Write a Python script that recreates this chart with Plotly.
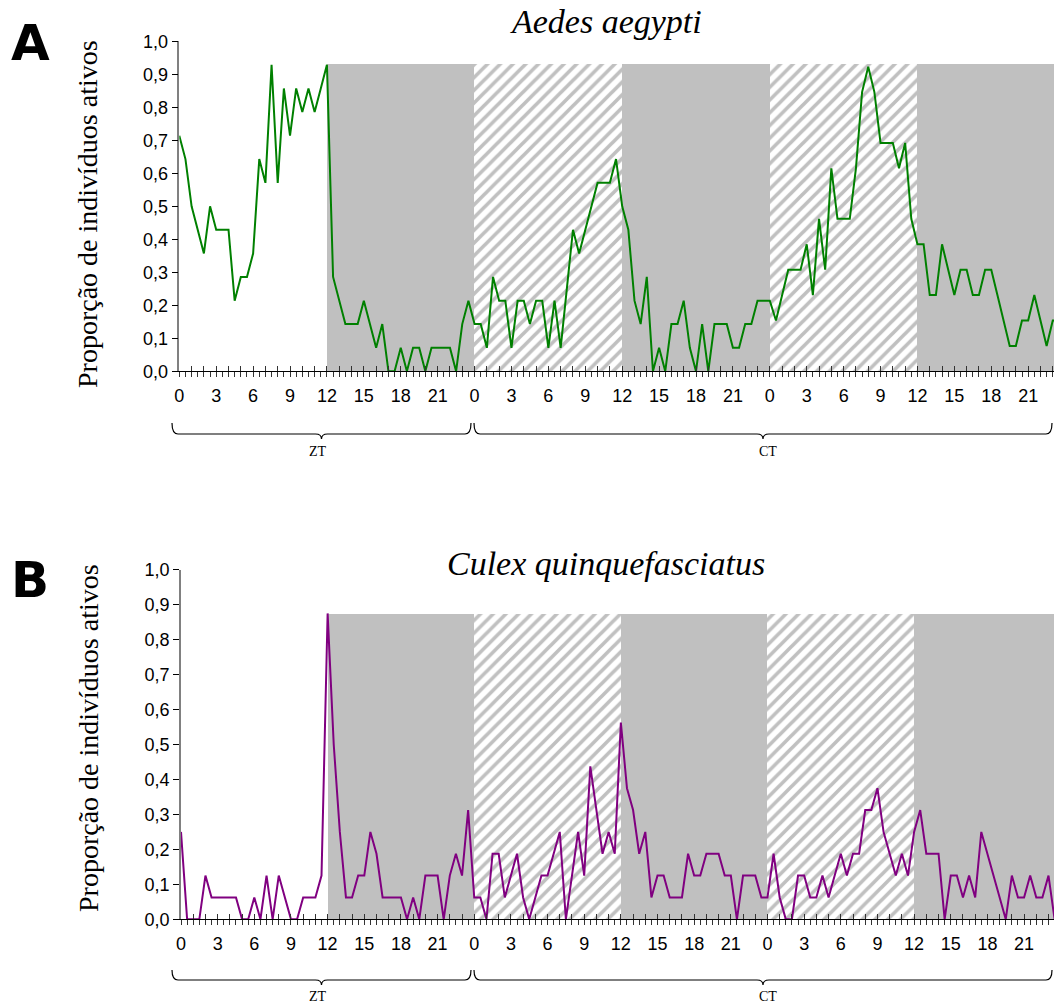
import plotly.graph_objects as go

W, H = 1054, 1006

# ---------------- data ----------------
hours = [i * 0.5 for i in range(144)]

aedes = [0.714, 0.643, 0.5, 0.429, 0.357, 0.5, 0.429, 0.429, 0.429, 0.214, 0.286, 0.286,
         0.357, 0.643, 0.571, 0.929, 0.571, 0.857, 0.714, 0.857, 0.786, 0.857, 0.786, 0.857,
         0.929, 0.286, 0.214, 0.143, 0.143, 0.143, 0.214, 0.143, 0.071, 0.143, 0.0, 0.0,
         0.071, 0.0, 0.071, 0.071, 0.0, 0.071, 0.071, 0.071, 0.071, 0.0, 0.143, 0.214,
         0.143, 0.143, 0.071, 0.286, 0.214, 0.214, 0.071, 0.214, 0.214, 0.143, 0.214, 0.214,
         0.071, 0.214, 0.071, 0.25, 0.429, 0.357, 0.429, 0.5, 0.571, 0.571, 0.571, 0.643,
         0.5, 0.429, 0.214, 0.143, 0.286, 0.0, 0.071, 0.0, 0.143, 0.143, 0.214, 0.071,
         0.0, 0.143, 0.0, 0.143, 0.143, 0.143, 0.071, 0.071, 0.143, 0.143, 0.214, 0.214,
         0.214, 0.154, 0.231, 0.308, 0.308, 0.308, 0.385, 0.231, 0.462, 0.308, 0.615, 0.462,
         0.462, 0.462, 0.615, 0.846, 0.923, 0.846, 0.692, 0.692, 0.692, 0.615, 0.692, 0.462,
         0.385, 0.385, 0.231, 0.231, 0.385, 0.308, 0.231, 0.308, 0.308, 0.231, 0.231, 0.308,
         0.308, 0.231, 0.154, 0.077, 0.077, 0.154, 0.154, 0.231, 0.154, 0.077, 0.154, 0.154]

culex = [0.25, 0, 0, 0, 0.125, 0.0625, 0.0625, 0.0625, 0.0625, 0.0625, 0, 0,
         0.0625, 0, 0.125, 0, 0.125, 0.0625, 0, 0, 0.0625, 0.0625, 0.0625, 0.125,
         0.875, 0.5, 0.25, 0.0625, 0.0625, 0.125, 0.125, 0.25, 0.1875, 0.0625, 0.0625, 0.0625,
         0.0625, 0, 0.0625, 0, 0.125, 0.125, 0.125, 0, 0.125, 0.1875, 0.125, 0.3125,
         0.0625, 0.0625, 0, 0.1875, 0.1875, 0.0625, 0.125, 0.1875, 0.0625, 0, 0.0625, 0.125,
         0.125, 0.1875, 0.25, 0, 0.125, 0.25, 0.125, 0.4375, 0.3125, 0.1875, 0.25, 0.1875,
         0.5625, 0.375, 0.3125, 0.1875, 0.25, 0.0625, 0.125, 0.125, 0.0625, 0.0625, 0.0625, 0.1875,
         0.125, 0.125, 0.1875, 0.1875, 0.1875, 0.125, 0.125, 0, 0.125, 0.125, 0.125, 0.0625,
         0.0625, 0.1875, 0.0625, 0, 0, 0.125, 0.125, 0.0625, 0.0625, 0.125, 0.0625, 0.125,
         0.1875, 0.125, 0.1875, 0.1875, 0.3125, 0.3125, 0.375, 0.25, 0.1875, 0.125, 0.1875, 0.125,
         0.25, 0.3125, 0.1875, 0.1875, 0.1875, 0, 0.125, 0.125, 0.0625, 0.125, 0.0625, 0.25,
         0.1875, 0.125, 0.0625, 0, 0.125, 0.0625, 0.0625, 0.125, 0.0625, 0.0625, 0.125, 0]

night_centers = [18, 42, 66]          # dark phases (ZT12-24, CT12-24)
subj_day_centers = [30, 54]           # subjective day under constant darkness
phase_width = 12

x_tick_vals = list(range(0, 72, 3))
x_tick_labels = [str(h % 24) for h in x_tick_vals]
y_tick_vals = [round(0.1 * k, 1) for k in range(11)]
y_tick_labels = [f"{v:.1f}".replace(".", ",") for v in y_tick_vals]

species = ["Aedes aegypti", "Culex quinquefasciatus"]
y_title = "Proporção de indivíduos ativos"

# ---------------- helpers ----------------
def px(x):
    return x / W

def py(y):
    return 1 - y / H

GREY = "#c0c0c0"
SANS = "Liberation Sans, Arial, sans-serif"
SERIF = "Liberation Serif, Times New Roman, serif"

fig = go.Figure()

panels = [
    dict(vals=aedes, color="#008000", xa="x", ya="y", xo="x3", x0px=179.3, xend=71.1,
         y0px=371.3, y1px=41.3),
    dict(vals=culex, color="#800080", xa="x2", ya="y2", xo="x4", x0px=181.0, xend=71.45,
         y0px=919.3, y1px=569.7),
]

for p in panels:
    top = max(p["vals"])
    fig.add_trace(go.Bar(x=night_centers, y=[top] * len(night_centers), width=phase_width,
                         marker=dict(color=GREY, line=dict(width=0)),
                         xaxis=p["xa"], yaxis=p["ya"], showlegend=False, hoverinfo="skip"))
    fig.add_trace(go.Bar(x=subj_day_centers, y=[top] * len(subj_day_centers), width=phase_width,
                         marker=dict(color="white", line=dict(width=0),
                                     pattern=dict(shape="/", fgcolor=GREY, bgcolor="white",
                                                  size=9, solidity=0.4)),
                         xaxis=p["xa"], yaxis=p["ya"], showlegend=False, hoverinfo="skip"))
    fig.add_trace(go.Scatter(x=hours, y=p["vals"], mode="lines",
                             line=dict(color=p["color"], width=2),
                             xaxis=p["xa"], yaxis=p["ya"], showlegend=False, cliponaxis=False))
    # dummy trace for the overlay axis (upper half of cross ticks)
    fig.add_trace(go.Scatter(x=[None], y=[None], xaxis=p["xo"], yaxis=p["ya"],
                             showlegend=False, hoverinfo="skip"))

all_tick_text = [str(int(h) % 24) if (h in x_tick_vals) else "" for h in hours]

layout = dict(
    template="none",
    width=W, height=H, autosize=False,
    margin=dict(l=0, r=0, t=0, b=0, pad=0, autoexpand=False),
    paper_bgcolor="white", plot_bgcolor="white",
    barmode="overlay", bargap=0,
    showlegend=False,
    font=dict(family=SANS, size=18, color="black"),
)

for k, p in enumerate(panels):
    n = "" if k == 0 else "2"
    on = "3" if k == 0 else "4"
    xdom = [px(p["x0px"]), 1.0]
    ydom = [py(p["y0px"]), py(p["y1px"])]
    layout["xaxis" + n] = dict(
        domain=xdom, range=[0, p["xend"]], anchor="y" + n, automargin=False,
        tickmode="array", tickvals=hours, ticktext=all_tick_text,
        ticks="outside", ticklen=5, tickwidth=1, tickcolor="#333333",
        showline=True, linecolor="black", linewidth=1,
        showgrid=False, zeroline=False,
        tickfont=dict(family=SANS, size=18, color="black"),
        ticklabelstandoff=3,
    )
    layout["xaxis" + on] = dict(
        domain=xdom, range=[0, p["xend"]], anchor="y" + n, overlaying="x" + n,
        automargin=False,
        tickmode="array", tickvals=list(range(0, 72)),
        ticks="inside", ticklen=5, tickwidth=1, tickcolor="#333333",
        showticklabels=False, showline=False, showgrid=False, zeroline=False,
    )
    layout["yaxis" + n] = dict(
        domain=ydom, range=[0, 1], anchor="x" + n, automargin=False,
        tickmode="array", tickvals=y_tick_vals, ticktext=y_tick_labels,
        ticks="outside", ticklen=6, tickwidth=1, tickcolor="black",
        showline=True, linecolor="#808080", linewidth=1.5,
        showgrid=False, zeroline=False,
        tickfont=dict(family=SANS, size=18, color="black"),
    )

fig.update_layout(**layout)

# ---------------- text ----------------
ann = []
for letter, ypx in (("A", 43), ("B", 580)):
    ann.append(dict(text=f"<b>{letter}</b>", x=px(30), y=py(ypx), xref="paper", yref="paper",
                    showarrow=False, xanchor="center", yanchor="middle",
                    font=dict(family="DejaVu Sans", size=50, color="black")))
for name, ypx in zip(species, (22, 563)):
    ann.append(dict(text=f"<i>{name}</i>", x=px(606), y=py(ypx), xref="paper", yref="paper",
                    showarrow=False, xanchor="center", yanchor="middle",
                    font=dict(family=SERIF, size=34, color="black")))
for ypx in (214, 738):
    ann.append(dict(text=y_title, x=px(88), y=py(ypx), xref="paper", yref="paper",
                    showarrow=False, xanchor="center", yanchor="middle", textangle=-90,
                    font=dict(family=SERIF, size=28, color="black")))

shapes = []

def brace(x0, x1, yt, yl, tip=5, r=6):
    xm = (x0 + x1) / 2
    pts = [
        f"M {px(x0)},{py(yt)}",
        f"Q {px(x0)},{py(yl)} {px(x0 + r)},{py(yl)}",
        f"L {px(xm - r)},{py(yl)}",
        f"Q {px(xm)},{py(yl)} {px(xm)},{py(yl + tip)}",
        f"Q {px(xm)},{py(yl)} {px(xm + r)},{py(yl)}",
        f"L {px(x1 - r)},{py(yl)}",
        f"Q {px(x1)},{py(yl)} {px(x1)},{py(yt)}",
    ]
    return dict(type="path", path=" ".join(pts), xref="paper", yref="paper",
                line=dict(color="black", width=1.2))

for yt, yl, ylab in ((423, 434, 451), (970, 980, 996)):
    shapes.append(brace(172, 471, yt, yl))
    shapes.append(brace(474, 1052, yt, yl))
    ann.append(dict(text="ZT", x=px(318), y=py(ylab), xref="paper", yref="paper",
                    xanchor="center", yanchor="middle",
                    showarrow=False, font=dict(family=SERIF, size=14, color="black")))
    ann.append(dict(text="CT", x=px(768), y=py(ylab), xref="paper", yref="paper",
                    xanchor="center", yanchor="middle",
                    showarrow=False, font=dict(family=SERIF, size=14, color="black")))

fig.update_layout(annotations=ann, shapes=shapes)

fig.write_html("out.html")
